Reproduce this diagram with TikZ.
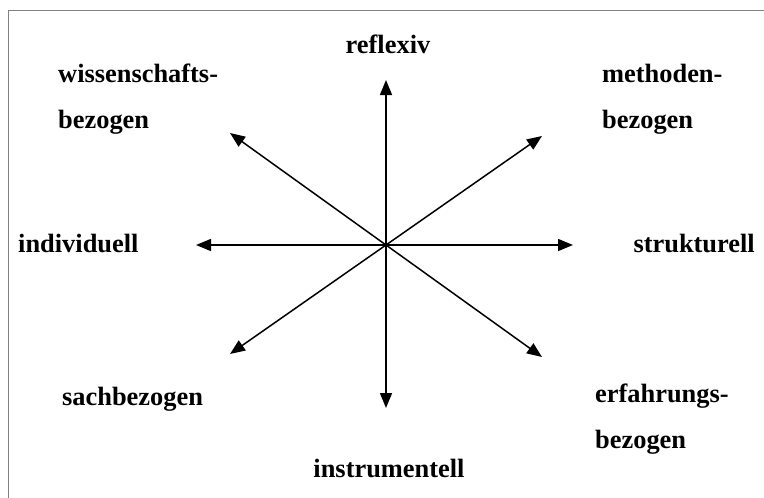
\documentclass[tikz,border=0pt]{standalone}
\usepackage{fontspec}
\setmainfont{Liberation Serif}
\usetikzlibrary{arrows.meta}
\begin{document}
\begin{tikzpicture}[x=1pt,y=-1pt,
  lbl/.style={font=\fontsize{26.4}{46}\selectfont\bfseries, inner sep=0pt, align=left},
  axis/.style={line width=1.5pt,-{Triangle[length=15pt,width=12pt]}}]
  \useasboundingbox (0,0) rectangle (764,498);
  % frame
  \draw[gray,line width=1pt] (8,498) -- (8,10) -- (764,10);
  % centre and arrow ends
  \coordinate (c) at (386,245);
  \coordinate (up) at (386,80);
  \coordinate (down) at (386,408);
  \coordinate (left) at (196,245);
  \coordinate (right) at (573,245);
  \coordinate (ul) at (230,133);
  \coordinate (ur) at (542,136);
  \coordinate (ll) at (230,354);
  \coordinate (lr) at (542,357);
  \foreach \e in {up,down,left,right,ul,ur,ll,lr}
    \draw[axis] (c) -- (\e);
  % labels (two-line nodes sit on the baseline of their last line)
  \node[lbl,anchor=base] (reflexiv) at (388,53) {reflexiv};
  \node[lbl,anchor=base] (instrumentell) at (389,477) {instrumentell};
  \node[lbl,anchor=base west] (individuell) at (18,252) {individuell};
  \node[lbl,anchor=base east] (strukturell) at (755,252) {strukturell};
  \node[lbl,anchor=base west] (wissenschaft) at (58,128) {wissenschafts-\\bezogen};
  \node[lbl,anchor=base west] (methoden) at (602,128) {methoden-\\bezogen};
  \node[lbl,anchor=base west] (sach) at (62,405) {sachbezogen};
  \node[lbl,anchor=base west] (erfahrung) at (595,448) {erfahrungs-\\bezogen};
\end{tikzpicture}
\end{document}
